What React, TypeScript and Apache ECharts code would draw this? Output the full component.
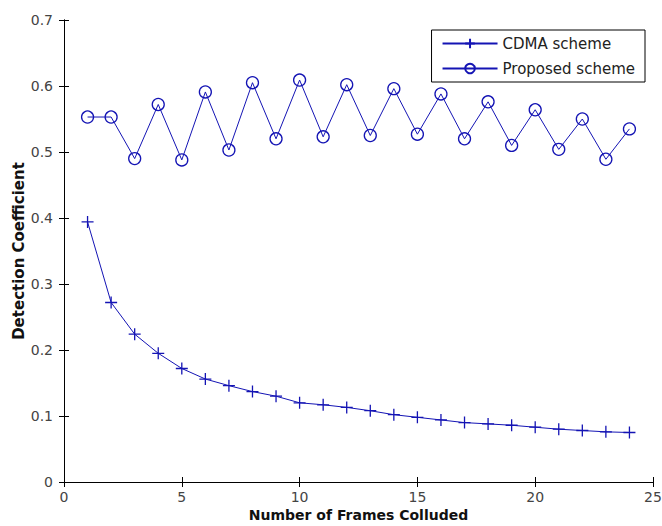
import React, { useEffect, useRef } from "react";
import * as echarts from "echarts";

const frames = [1, 2, 3, 4, 5, 6, 7, 8, 9, 10, 11, 12, 13, 14, 15, 16, 17, 18, 19, 20, 21, 22, 23, 24];
const cdma = [0.394, 0.272, 0.224, 0.195, 0.172, 0.156, 0.146, 0.137, 0.130, 0.120, 0.117, 0.113, 0.108, 0.102, 0.098, 0.094, 0.090, 0.088, 0.086, 0.083, 0.080, 0.078, 0.076, 0.075];
const proposed = [0.553, 0.553, 0.490, 0.572, 0.488, 0.591, 0.503, 0.605, 0.520, 0.609, 0.523, 0.602, 0.525, 0.596, 0.527, 0.588, 0.520, 0.576, 0.510, 0.564, 0.504, 0.550, 0.489, 0.535];
const seriesNames = ["CDMA scheme", "Proposed scheme"];
const xTitle = "Number of Frames Colluded";
const yTitle = "Detection Coefficient";

const BLUE = "#1414b4";
const FONT = "DejaVu Sans, Liberation Sans, Arial, sans-serif";

export default function App() {
  const ref = useRef<HTMLDivElement>(null);
  useEffect(() => {
    if (!ref.current) return;
    const chart = echarts.init(ref.current, null, { renderer: "svg" });
    const axisCommon = {
      axisLine: { show: true, lineStyle: { color: "#000", width: 1 } },
      axisTick: { show: true, inside: true, length: 5, lineStyle: { color: "#000" } },
      splitLine: { show: false },
    };
    chart.setOption({
      animation: false,
      backgroundColor: "#fff",
      textStyle: { fontFamily: FONT },
      grid: { left: 64, right: 9, top: 20, bottom: 44, containLabel: false, outerBoundsMode: "none" },
      legend: {
        orient: "vertical",
        right: 17,
        top: 30,
        itemWidth: 55,
        itemHeight: 12,
        itemGap: 10,
        padding: [6, 10, 6, 10],
        borderColor: "#000",
        borderWidth: 1,
        backgroundColor: "#fff",
        textStyle: { fontFamily: FONT, fontSize: 15, color: "#222" },
        data: seriesNames,
      },
      xAxis: [
        {
          type: "value",
          min: 0,
          max: 25,
          interval: 5,
          ...axisCommon,
          axisLabel: { color: "#444", fontSize: 14, margin: 8, fontFamily: FONT },
          name: xTitle,
          nameLocation: "middle",
          nameGap: 26,
          nameMoveOverlap: false,
          nameTextStyle: { fontWeight: "bold", fontSize: 14, color: "#111", fontFamily: FONT },
        },
        {
          type: "value",
          position: "top",
          min: 0,
          max: 25,
          interval: 5,
          ...axisCommon,
          axisLabel: { show: false },
        },
      ],
      yAxis: [
        {
          type: "value",
          min: 0,
          max: 0.7,
          interval: 0.1,
          ...axisCommon,
          axisLabel: { color: "#444", fontSize: 14, margin: 11, fontFamily: FONT },
          name: yTitle,
          nameLocation: "middle",
          nameGap: 38,
          nameMoveOverlap: false,
          nameTextStyle: { fontWeight: "bold", fontSize: 15, color: "#111", fontFamily: FONT },
        },
        {
          type: "value",
          position: "right",
          min: 0,
          max: 0.7,
          interval: 0.1,
          ...axisCommon,
          axisLabel: { show: false },
        },
      ],
      series: [
        {
          name: seriesNames[0],
          type: "line",
          data: frames.map((f, i) => [f, cdma[i]]),
          symbol: "path://M0,6 L12,6 M6,0 L6,12",
          symbolSize: 12,
          lineStyle: { color: BLUE, width: 1 },
          itemStyle: { color: "none", borderColor: BLUE, borderWidth: 1.3 },
        },
        {
          name: seriesNames[1],
          type: "line",
          data: frames.map((f, i) => [f, proposed[i]]),
          symbol: "circle",
          symbolSize: 12,
          lineStyle: { color: BLUE, width: 1 },
          itemStyle: { color: "none", borderColor: BLUE, borderWidth: 1.3 },
        },
      ],
    });
    return () => chart.dispose();
  }, []);
  return <div ref={ref} style={{ width: 662, height: 526, position: "absolute", left: 0, top: 0 }} />;
}
